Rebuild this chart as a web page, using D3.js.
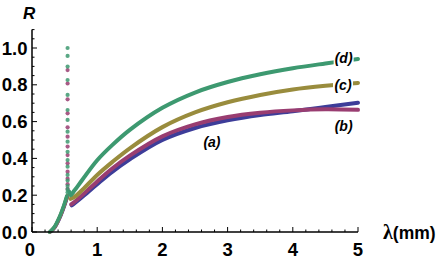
<!DOCTYPE html>
<html><head><meta charset="utf-8">
<script src="https://cdn.jsdelivr.net/npm/d3@7"></script>
<style>body{margin:0;background:#fff}svg{display:block}</style>
</head><body><svg id="c" width="445" height="261"></svg>
<script>
// ---- data ----
const seriesNames = ["(a)", "(b)", "(c)", "(d)"];
const seriesColors = ["#3d3d99", "#993d71", "#998c3d", "#3d9970"];
const preX = [0.28, 0.35, 0.43, 0.50, 0.545];
const preR = [0.0, 0.025, 0.08, 0.145, 0.195];
const postX_a = [0.61, 0.65, 0.77, 1.0, 1.23, 1.5, 2.0, 2.5, 3.0, 3.5, 4.0, 4.5, 5.0];
const postR_a = [0.145, 0.155, 0.19, 0.26, 0.327, 0.395, 0.50, 0.565, 0.607, 0.636, 0.656, 0.679, 0.703];
const postX_b = [0.60, 0.65, 0.77, 1.0, 1.23, 1.5, 2.0, 2.5, 3.0, 3.5, 4.0, 4.5, 5.0];
const postR_b = [0.15, 0.163, 0.20, 0.275, 0.345, 0.415, 0.52, 0.585, 0.625, 0.648, 0.661, 0.667, 0.664];
const postX_c = [0.59, 0.65, 0.77, 1.0, 1.23, 1.5, 2.0, 2.5, 3.0, 3.5, 4.0, 4.5, 5.0];
const postR_c = [0.18, 0.19, 0.228, 0.31, 0.38, 0.455, 0.57, 0.65, 0.705, 0.745, 0.775, 0.795, 0.81];
const postX_d = [0.57, 0.59, 0.65, 0.77, 1.0, 1.23, 1.5, 2.0, 2.5, 3.0, 3.5, 4.0, 4.5, 5.0];
const postR_d = [0.22, 0.20, 0.225, 0.283, 0.39, 0.472, 0.555, 0.675, 0.758, 0.815, 0.857, 0.89, 0.916, 0.94];
const spikeX = 0.546;
const spikeR_b = [0.88, 0.807, 0.721, 0.645, 0.569, 0.518, 0.464, 0.418, 0.373, 0.328, 0.29, 0.26, 0.235];
const spikeR_d = [1.0, 0.957, 0.899, 0.826, 0.745, 0.663, 0.609, 0.545, 0.491, 0.436, 0.391, 0.355, 0.31, 0.28, 0.25, 0.23, 0.215];
const xTicks = [0, 1, 2, 3, 4, 5];
const yTicks = [0.0, 0.2, 0.4, 0.6, 0.8, 1.0];
const xTitle = ["λ", "(mm)"];
const yTitle = "R";

// ---- chart ----
const svg = d3.select("#c");
const x = d3.scaleLinear().domain([0, 5]).range([32, 358]);
const y = d3.scaleLinear().domain([0, 1.1]).range([232, 29.6]);

const series = [
  {px: postX_a, pr: postR_a, spike: []},
  {px: postX_b, pr: postR_b, spike: spikeR_b},
  {px: postX_c, pr: postR_c, spike: []},
  {px: postX_d, pr: postR_d, spike: spikeR_d}
];
const line = d3.line().x(d => x(d[0])).y(d => y(d[1])).curve(d3.curveCatmullRom.alpha(0.5));

series.forEach((s, i) => {
  const pre = preX.map((v, k) => [v - i * 0.004, preR[k]]);
  svg.append("path").attr("d", line(pre)).attr("fill", "none")
    .attr("stroke", seriesColors[i]).attr("stroke-width", 3.5).attr("stroke-linecap", "round");
  const post = s.px.map((v, k) => [v, s.pr[k]]);
  svg.append("path").attr("d", line(post)).attr("fill", "none")
    .attr("stroke", seriesColors[i]).attr("stroke-width", 4).attr("stroke-linecap", "round");
});
series.forEach((s, i) => {
  svg.selectAll(null).data(s.spike).enter().append("circle")
    .attr("cx", x(spikeX)).attr("cy", d => y(d)).attr("r", 2.1)
    .attr("fill", seriesColors[i]).attr("opacity", 0.85);
});

// axes
const axisColor = "#000";
svg.append("line").attr("x1", x(0)).attr("x2", x(5)).attr("y1", y(0)).attr("y2", y(0))
  .attr("stroke", axisColor).attr("stroke-width", 1.5);
svg.append("line").attr("x1", x(0)).attr("x2", x(0)).attr("y1", y(0)).attr("y2", y(1.1))
  .attr("stroke", axisColor).attr("stroke-width", 1.5);
const xMinor = d3.range(0, 5.001, 0.2);
svg.selectAll(null).data(xMinor).enter().append("line")
  .attr("x1", d => x(d)).attr("x2", d => x(d))
  .attr("y1", y(0)).attr("y2", d => y(0) - (Math.abs(d - Math.round(d)) < 1e-6 ? 5 : 2.5))
  .attr("stroke", axisColor).attr("stroke-width", 1);
const yMinor = d3.range(0, 1.1001, 0.05);
svg.selectAll(null).data(yMinor).enter().append("line")
  .attr("y1", d => y(d)).attr("y2", d => y(d))
  .attr("x1", x(0)).attr("x2", d => x(0) + (Math.abs(d * 5 - Math.round(d * 5)) < 1e-6 ? 5 : 2.5))
  .attr("stroke", axisColor).attr("stroke-width", 1);

svg.selectAll(null).data(xTicks).enter().append("text")
  .attr("x", d => x(d) - (d === 0 ? 2 : 0)).attr("y", 256).attr("text-anchor", "middle")
  .attr("font-family", "Liberation Sans, Arial, sans-serif").attr("font-weight", "bold")
  .attr("font-size", 18.5).text(d => d);
svg.selectAll(null).data(yTicks).enter().append("text")
  .attr("x", 27.5).attr("y", d => y(d) + 6.5).attr("text-anchor", "end")
  .attr("font-family", "Liberation Sans, Arial, sans-serif").attr("font-weight", "bold")
  .attr("font-size", 18.5).text(d => d.toFixed(1));

svg.append("text").attr("x", 23).attr("y", 19)
  .attr("font-family", "Liberation Sans, Arial, sans-serif").attr("font-weight", "bold")
  .attr("font-style", "italic").attr("font-size", 17).text(yTitle);
const xt = svg.append("text").attr("x", 383).attr("y", 239)
  .attr("font-family", "Liberation Sans, Arial, sans-serif").attr("font-weight", "bold")
  .attr("font-size", 17.5);
xt.append("tspan").attr("font-family", "Liberation Serif, Times New Roman, serif").attr("font-size", 20).text(xTitle[0]);
xt.append("tspan").text(xTitle[1]);

// curve labels
const labelAnchors = [[2.76, 0.49], [4.78, 0.575], [4.77, 0.8], [4.78, 0.945]];
seriesNames.forEach((t, i) => {
  const cx = x(labelAnchors[i][0]), cy = y(labelAnchors[i][1]);
  svg.append("rect").attr("x", cx - 10).attr("y", cy - 8).attr("width", 20).attr("height", 16).attr("fill", "#fff");
  svg.append("text").attr("x", cx).attr("y", cy + 5).attr("text-anchor", "middle")
    .attr("font-family", "Liberation Sans, Arial, sans-serif").attr("font-weight", "bold")
    .attr("font-style", "italic").attr("font-size", 14).text(t);
});
</script></body></html>
